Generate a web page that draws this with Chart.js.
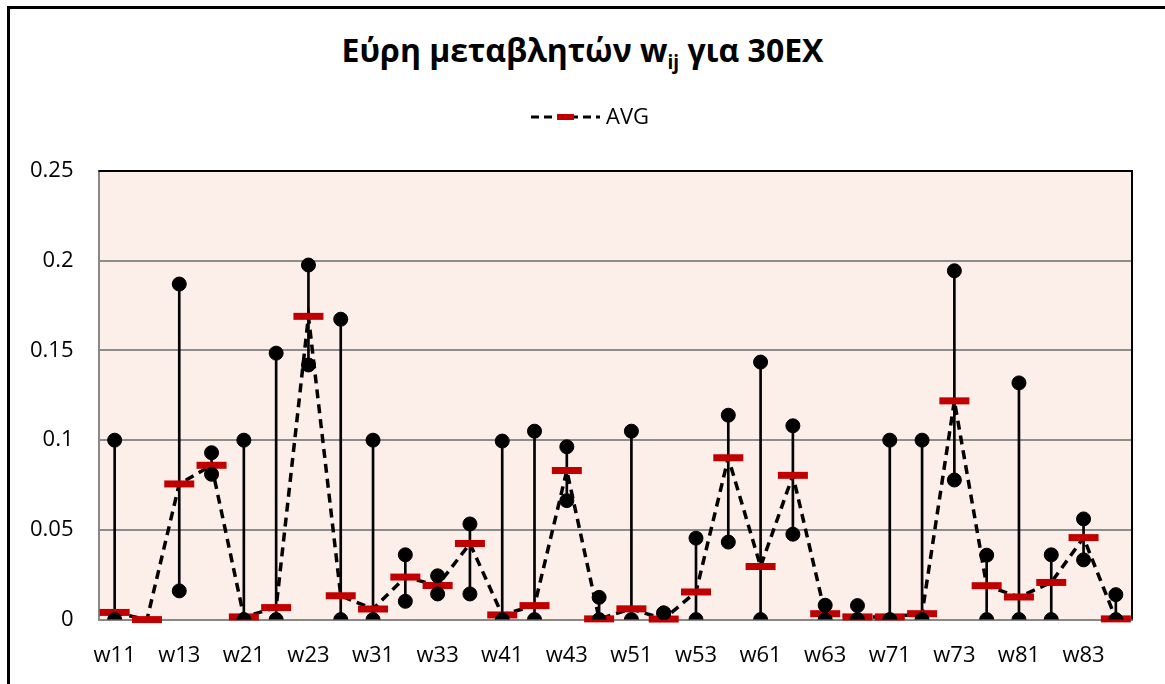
<!DOCTYPE html>
<html>
<head>
<meta charset="utf-8">
<script src="https://cdn.jsdelivr.net/npm/chart.js@4.4.0/dist/chart.umd.min.js"></script>
<style>
  html, body { margin: 0; padding: 0; background: #fff; overflow: hidden; }
  #wrap { position: relative; width: 1165px; height: 684px; }
  #frame { position: absolute; left: 7px; top: 6px; width: 1200px; height: 720px; border: 3px solid #000; box-sizing: border-box; }
  #title { position: absolute; left: 0; width: 1165px; top: 28px; text-align: center;
           font-family: "Open Sans", sans-serif; font-weight: bold; font-size: 32px; color: #000; }
  #title sub { font-size: 19px; vertical-align: -7px; line-height: 0; }
  canvas { position: absolute; left: 0; top: 0; }
</style>
</head>
<body>
<div id="wrap">
  <div id="frame"></div>
  <div id="title">Εύρη μεταβλητών w<sub>ij</sub> για 30EX</div>
  <canvas id="c" width="1165" height="684"></canvas>
</div>
<script>
// κατηγορίες w11 ... w84
const labels = ['w11','w12','w13','w14','w21','w22','w23','w24',
                'w31','w32','w33','w34','w41','w42','w43','w44',
                'w51','w52','w53','w54','w61','w62','w63','w64',
                'w71','w72','w73','w74','w81','w82','w83','w84'];

const maxVals = [0.1, null, 0.187, 0.093, 0.1, 0.1485, 0.1976, 0.1674,
                 0.1, 0.0361, 0.0244, 0.0533, 0.0995, 0.105, 0.0963, 0.0124,
                 0.105, 0.0037, 0.0454, 0.1139, 0.1435, 0.108, 0.008, 0.0078,
                 0.1, 0.1, 0.1944, 0.0359, 0.1319, 0.0361, 0.0561, 0.0139];

const minVals = [0, null, 0.016, 0.081, 0, 0, 0.1419, 0,
                 0, 0.0102, 0.0143, 0.0143, 0, 0, 0.0663, 0,
                 0, 0.0037, 0, 0.0432, 0, 0.0476, 0, 0,
                 0, 0, 0.0778, 0, 0, 0, 0.0333, 0];

const avgVals = [0.004, 0, 0.0756, 0.086, 0.0015, 0.0067, 0.169, 0.0133,
                 0.0059, 0.0237, 0.019, 0.0424, 0.0026, 0.0078, 0.0831, 0.0004,
                 0.006, 0.0003, 0.0154, 0.0902, 0.0296, 0.0804, 0.0033, 0.0015,
                 0.0015, 0.0033, 0.1219, 0.0189, 0.0126, 0.0207, 0.0457, 0.0004];

const yTicks = [0, 0.05, 0.1, 0.15, 0.2, 0.25];

const rangeData = labels.map((l, i) => maxVals[i] === null ? null : [minVals[i], maxVals[i]]);

const FONT = '"Open Sans", sans-serif';

// φόντο περιοχής σχεδίασης + περίγραμμα + υπόμνημα
const areaPlugin = {
    id: 'area',
    beforeDraw(chart) {
        const { ctx, chartArea: a } = chart;
        ctx.save();
        ctx.fillStyle = '#FCEEE9';
        ctx.fillRect(a.left, a.top, a.right - a.left, a.bottom - a.top);
        ctx.restore();
    },
    afterDraw(chart) {
        const { ctx, chartArea: a } = chart;
        ctx.save();
        ctx.strokeStyle = '#000';
        ctx.lineWidth = 2;
        ctx.beginPath();
        ctx.moveTo(a.left, a.top);
        ctx.lineTo(a.right, a.top);
        ctx.lineTo(a.right, a.bottom);
        ctx.stroke();

        // υπόμνημα AVG
        const y = 117;
        ctx.strokeStyle = '#000';
        ctx.lineWidth = 3;
        ctx.setLineDash([8, 5]);
        ctx.beginPath();
        ctx.moveTo(531, y);
        ctx.lineTo(600, y);
        ctx.stroke();
        ctx.setLineDash([]);
        ctx.fillStyle = '#C00000';
        ctx.fillRect(557, y - 3, 17, 6);
        ctx.fillStyle = '#000';
        ctx.font = '22px ' + FONT;
        ctx.textAlign = 'left';
        ctx.textBaseline = 'middle';
        ctx.fillText('AVG', 606, y + 1);
        ctx.restore();
    }
};

new Chart(document.getElementById('c'), {
    type: 'bar',
    data: {
        labels,
        datasets: [
            {
                type: 'line',
                label: 'max',
                data: maxVals,
                showLine: false,
                pointRadius: 7,
                pointHoverRadius: 7,
                pointBackgroundColor: '#000',
                pointBorderColor: '#000',
                clip: 0,
                order: 0
            },
            {
                type: 'line',
                label: 'min',
                data: minVals,
                showLine: false,
                pointRadius: 7,
                pointHoverRadius: 7,
                pointBackgroundColor: '#000',
                pointBorderColor: '#000',
                clip: 0,
                order: 0
            },
            {
                type: 'line',
                label: 'AVG',
                data: avgVals,
                borderColor: '#000',
                borderWidth: 3.5,
                borderDash: [9, 6],
                tension: 0,
                pointStyle: 'line',
                pointRadius: 15,
                pointHoverRadius: 15,
                pointBorderColor: '#C00000',
                pointBorderWidth: 7,
                clip: false,
                order: 1
            },
            {
                type: 'bar',
                label: 'range',
                data: rangeData,
                backgroundColor: '#000',
                barThickness: 2,
                borderSkipped: false,
                order: 2
            }
        ]
    },
    options: {
        responsive: false,
        animation: false,
        events: [],
        layout: { padding: { top: 171, left: 5, right: 33, bottom: 0 } },
        plugins: {
            legend: { display: false },
            title: { display: false },
            tooltip: { enabled: false }
        },
        scales: {
            x: {
                grid: { display: false },
                border: { color: '#888', width: 2 },
                ticks: {
                    autoSkip: false,
                    maxRotation: 0,
                    padding: 15,
                    color: '#000',
                    font: { family: FONT, size: 22 },
                    callback: function(v, i) { return i % 2 === 0 ? labels[i] : ''; }
                }
            },
            y: {
                min: 0,
                max: 0.25,
                afterBuildTicks: function(axis) { axis.ticks = yTicks.map(v => ({ value: v })); },
                grid: { color: '#8c8c8c', lineWidth: 2, drawTicks: false },
                border: { color: '#888', width: 2 },
                ticks: {
                    padding: 25,
                    color: '#000',
                    font: { family: FONT, size: 22 },
                    callback: function(v) { return String(v); }
                }
            }
        }
    },
    plugins: [areaPlugin]
});
</script>
</body>
</html>
